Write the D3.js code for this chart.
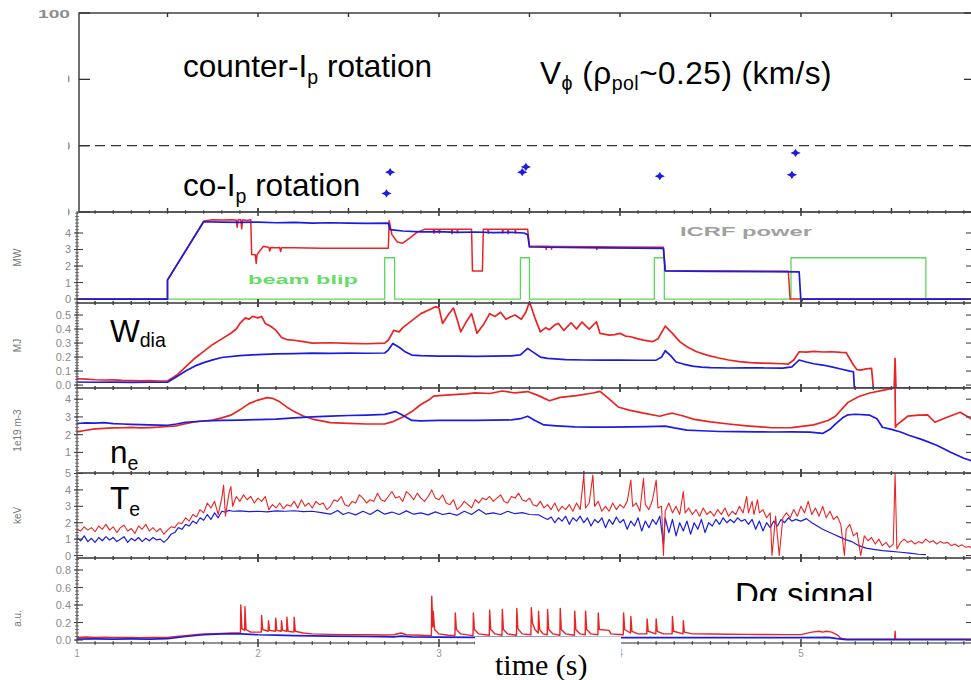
<!DOCTYPE html>
<html>
<head>
<meta charset="utf-8">
<script src="https://cdn.jsdelivr.net/npm/d3@7"></script>
<style>
body{margin:0;background:#fff}
svg{display:block}
text{font-family:"Liberation Sans",Arial,sans-serif}
</style>
</head>
<body>
<svg width="971" height="680"></svg>
<script>
// ---- data ----
var rotTime  = [2.71, 2.73, 3.46, 3.48, 4.22, 4.95, 4.97];
var rotSpeed = [-36, -20, -20, -16, -23, -22, -5.5];
var rotTicks = [100, 50, 0, -50];

var powerTicks = [0, 1, 2, 3, 4];
var powerRed = [[1,0],[1.5,0],[1.5,1.15],[1.7,4.72],[1.75,4.8],[1.8,4.78],[1.85,4.8],[1.88,4.78],[1.885,4.35],[1.89,4.8],[1.905,4.8],[1.91,4.25],[1.915,4.8],[1.94,4.75],[1.96,4.8],[1.965,2.7],[1.985,2.68],[1.99,2.15],[1.995,2.7],[2.03,3.2],[2.06,3.12],[2.065,2.9],[2.07,3.12],[2.1,3.1],[2.12,3.12],[2.125,2.88],[2.13,3.1],[2.2,3.1],[2.35,3.08],[2.5,3.08],[2.6,3.07],[2.72,3.07],[2.725,4.75],[2.74,3.9],[2.77,3.45],[2.8,3.38],[2.84,3.7],[2.88,4.05],[2.92,4.22],[2.97,4.22],[2.972,3.98],[2.975,4.22],[3.0,4.22],[3.002,4.0],[3.005,4.22],[3.07,4.22],[3.072,3.95],[3.075,4.22],[3.1,4.22],[3.102,4.02],[3.105,4.22],[3.18,4.22],[3.185,1.7],[3.24,1.7],[3.245,4.22],[3.27,4.22],[3.272,3.98],[3.275,4.22],[3.35,4.22],[3.352,4.0],[3.355,4.22],[3.38,4.22],[3.382,3.96],[3.385,4.22],[3.42,4.22],[3.422,4.0],[3.425,4.22],[3.49,4.22],[3.5,3.2],[3.59,3.2],[3.592,3.0],[3.595,3.2],[3.62,3.18],[3.622,3.02],[3.625,3.18],[3.87,3.16],[3.872,3.0],[3.875,3.16],[4.0,3.15],[4.24,3.13],[4.25,1.72],[4.6,1.7],[4.93,1.68],[4.94,0],[5.945,0]];
var powerBlue = [[1,0],[1.5,0],[1.5,1.15],[1.7,4.68],[1.8,4.66],[1.9,4.64],[2.0,4.66],[2.1,4.62],[2.2,4.64],[2.3,4.6],[2.4,4.62],[2.5,4.6],[2.6,4.58],[2.72,4.6],[2.73,4.2],[2.8,4.12],[2.9,4.07],[3.0,4.08],[3.1,4.04],[3.2,4.06],[3.3,4.02],[3.4,4.04],[3.47,4.0],[3.49,3.9],[3.5,3.15],[3.7,3.12],[3.9,3.1],[4.1,3.08],[4.24,3.07],[4.25,1.7],[4.5,1.68],[4.8,1.66],[4.99,1.64],[5.0,-0.2],[5.01,0],[5.945,0]];
var beamBlip = [[1,0],[2.70,0],[2.70,2.5],[2.755,2.5],[2.755,0],[3.45,0],[3.45,2.5],[3.50,2.5],[3.50,0],[4.19,0],[4.19,2.5],[4.245,2.5],[4.245,0],[4.945,0],[4.945,2.5],[5.69,2.5],[5.69,0],[5.945,0]];

var wdiaTicks = [0.0, 0.1, 0.2, 0.3, 0.4, 0.5];
var wdiaRed = [[1.0,0.045],[1.05,0.042],[1.1,0.038],[1.15,0.036],[1.2,0.037],[1.25,0.033],[1.3,0.032],[1.35,0.03],[1.4,0.031],[1.45,0.029],[1.5,0.03],[1.55,0.07],[1.6,0.13],[1.65,0.19],[1.7,0.24],[1.75,0.29],[1.8,0.33],[1.85,0.37],[1.88,0.4],[1.9,0.44],[1.93,0.48],[1.95,0.47],[1.97,0.49],[2.0,0.48],[2.02,0.49],[2.04,0.44],[2.07,0.42],[2.1,0.39],[2.13,0.34],[2.16,0.325],[2.2,0.32],[2.25,0.31],[2.3,0.3],[2.4,0.302],[2.5,0.298],[2.6,0.295],[2.7,0.3],[2.72,0.32],[2.75,0.39],[2.78,0.38],[2.8,0.41],[2.85,0.46],[2.9,0.51],[2.95,0.54],[2.98,0.56],[3.0,0.55],[3.02,0.44],[3.05,0.5],[3.08,0.55],[3.1,0.47],[3.12,0.38],[3.15,0.45],[3.18,0.51],[3.21,0.37],[3.25,0.44],[3.28,0.51],[3.31,0.49],[3.34,0.52],[3.37,0.47],[3.4,0.49],[3.42,0.5],[3.455,0.47],[3.48,0.52],[3.5,0.595],[3.53,0.48],[3.56,0.38],[3.59,0.41],[3.61,0.395],[3.64,0.43],[3.66,0.44],[3.69,0.39],[3.73,0.445],[3.76,0.4],[3.79,0.45],[3.83,0.4],[3.87,0.452],[3.89,0.369],[3.94,0.357],[3.97,0.36],[4.0,0.369],[4.03,0.35],[4.06,0.345],[4.1,0.33],[4.13,0.321],[4.18,0.31],[4.21,0.33],[4.25,0.421],[4.29,0.369],[4.33,0.31],[4.37,0.274],[4.42,0.24],[4.48,0.214],[4.54,0.195],[4.6,0.179],[4.66,0.168],[4.72,0.16],[4.78,0.157],[4.84,0.155],[4.9,0.152],[4.93,0.15],[4.96,0.179],[4.99,0.238],[5.03,0.235],[5.07,0.24],[5.12,0.236],[5.17,0.238],[5.22,0.233],[5.25,0.231],[5.29,0.143],[5.31,0.11],[5.33,0.107],[5.36,0.115],[5.39,0.119],[5.40,-0.02],[5.515,-0.02],[5.52,0.19],[5.525,-0.02],[5.945,-0.02]];
var wdiaBlue = [[1.0,0.022],[1.1,0.02],[1.2,0.021],[1.3,0.019],[1.4,0.02],[1.5,0.02],[1.55,0.06],[1.6,0.1],[1.65,0.135],[1.7,0.16],[1.75,0.18],[1.8,0.197],[1.9,0.21],[2.0,0.218],[2.1,0.222],[2.2,0.225],[2.3,0.228],[2.4,0.226],[2.5,0.228],[2.6,0.227],[2.7,0.229],[2.72,0.25],[2.745,0.297],[2.78,0.27],[2.81,0.24],[2.85,0.214],[2.9,0.21],[3.0,0.207],[3.1,0.206],[3.2,0.205],[3.3,0.207],[3.4,0.208],[3.45,0.215],[3.49,0.262],[3.52,0.235],[3.56,0.2],[3.6,0.19],[3.7,0.182],[3.8,0.179],[3.9,0.178],[4.0,0.178],[4.1,0.177],[4.2,0.178],[4.23,0.2],[4.25,0.245],[4.28,0.21],[4.31,0.165],[4.35,0.15],[4.4,0.135],[4.45,0.128],[4.5,0.124],[4.6,0.122],[4.7,0.123],[4.8,0.122],[4.9,0.121],[4.95,0.13],[4.99,0.179],[5.03,0.165],[5.07,0.152],[5.12,0.143],[5.17,0.13],[5.22,0.115],[5.27,0.1],[5.29,0.095],[5.295,-0.02],[5.945,-0.02]];

var neTicks = [1, 2, 3, 4];
var neRed = [[1.0,2.16],[1.05,2.25],[1.1,2.33],[1.15,2.36],[1.2,2.38],[1.25,2.39],[1.3,2.41],[1.35,2.38],[1.4,2.4],[1.45,2.42],[1.5,2.46],[1.55,2.5],[1.6,2.62],[1.65,2.72],[1.7,2.77],[1.75,2.82],[1.8,2.95],[1.85,3.1],[1.9,3.4],[1.95,3.75],[2.0,3.95],[2.05,4.09],[2.08,4.05],[2.12,3.85],[2.16,3.55],[2.2,3.3],[2.25,3.05],[2.3,2.88],[2.35,2.78],[2.4,2.68],[2.5,2.64],[2.6,2.6],[2.7,2.6],[2.75,2.75],[2.8,3.0],[2.85,3.3],[2.9,3.7],[2.95,4.0],[2.97,4.17],[3.0,4.2],[3.08,4.26],[3.15,4.3],[3.2,4.35],[3.28,4.32],[3.35,4.46],[3.42,4.35],[3.49,4.43],[3.55,4.2],[3.61,3.91],[3.67,4.1],[3.76,4.2],[3.85,4.35],[3.89,4.44],[3.93,4.1],[3.99,3.56],[4.05,3.38],[4.13,3.21],[4.22,3.04],[4.26,3.15],[4.29,3.21],[4.35,3.05],[4.41,2.86],[4.5,2.72],[4.6,2.6],[4.7,2.5],[4.8,2.42],[4.84,2.39],[4.95,2.4],[5.07,2.55],[5.15,2.8],[5.19,3.04],[5.26,3.82],[5.32,4.15],[5.38,4.35],[5.45,4.5],[5.51,4.62],[5.52,4.63],[5.522,2.42],[5.53,2.55],[5.59,3.04],[5.65,3.1],[5.7,3.12],[5.74,2.7],[5.8,2.95],[5.88,3.26],[5.945,2.86]];
var neBlue = [[1.0,2.63],[1.05,2.66],[1.1,2.65],[1.15,2.68],[1.2,2.62],[1.25,2.6],[1.3,2.58],[1.35,2.57],[1.4,2.55],[1.45,2.54],[1.5,2.53],[1.55,2.6],[1.6,2.7],[1.7,2.77],[1.8,2.8],[1.9,2.82],[2.0,2.85],[2.1,2.88],[2.2,2.95],[2.3,3.0],[2.4,3.04],[2.5,3.08],[2.6,3.1],[2.7,3.14],[2.76,3.3],[2.8,3.1],[2.85,2.8],[2.9,2.78],[3.0,2.8],[3.1,2.81],[3.2,2.8],[3.3,2.82],[3.4,2.83],[3.45,2.9],[3.49,3.04],[3.53,2.8],[3.58,2.55],[3.65,2.5],[3.75,2.44],[3.85,2.42],[3.95,2.43],[4.05,2.44],[4.15,2.45],[4.25,2.48],[4.3,2.38],[4.37,2.26],[4.45,2.22],[4.55,2.18],[4.65,2.17],[4.75,2.16],[4.85,2.15],[4.95,2.16],[5.05,2.14],[5.12,2.07],[5.16,2.3],[5.19,2.6],[5.23,2.95],[5.26,3.12],[5.3,3.15],[5.38,3.1],[5.42,2.9],[5.45,2.42],[5.5,2.3],[5.55,2.15],[5.6,1.95],[5.67,1.72],[5.75,1.4],[5.83,1.0],[5.9,0.67],[5.945,0.52]];

var teTicks = [0, 1, 2, 3, 4, 5];
var teRed = [[1.00,1.6],[1.02,1.5],[1.04,1.75],[1.06,1.55],[1.08,1.7],[1.10,1.45],[1.12,1.8],[1.14,1.6],[1.16,1.9],[1.18,1.55],[1.20,1.75],[1.22,1.4],[1.24,1.7],[1.26,1.85],[1.28,1.5],[1.30,1.65],[1.32,1.35],[1.34,1.8],[1.36,1.6],[1.38,1.9],[1.40,1.5],[1.42,1.7],[1.44,1.45],[1.46,1.65],[1.48,1.3],[1.50,1.55],[1.52,1.75],[1.54,1.7],[1.56,2.0],[1.58,1.95],[1.60,2.3],[1.62,2.1],[1.64,2.5],[1.66,2.35],[1.68,2.8],[1.70,2.6],[1.72,3.2],[1.74,2.9],[1.76,3.3],[1.78,2.5],[1.80,3.5],[1.81,4.3],[1.82,2.4],[1.84,3.8],[1.85,4.2],[1.86,3.0],[1.88,3.6],[1.90,3.3],[1.92,3.7],[1.94,3.4],[1.96,3.6],[1.98,3.2],[2.00,3.5],[2.02,3.3],[2.04,3.6],[2.06,2.8],[2.08,3.1],[2.10,2.9],[2.12,3.2],[2.14,2.85],[2.16,3.1],[2.18,3.0],[2.20,3.3],[2.22,2.9],[2.24,3.4],[2.26,3.0],[2.28,3.2],[2.30,2.9],[2.32,3.3],[2.34,3.1],[2.36,3.2],[2.38,2.8],[2.40,3.0],[2.42,3.4],[2.44,3.3],[2.46,3.6],[2.48,3.1],[2.50,3.0],[2.52,3.3],[2.54,3.2],[2.56,3.7],[2.58,3.5],[2.60,3.2],[2.62,3.4],[2.64,3.3],[2.66,3.8],[2.68,3.4],[2.70,3.3],[2.72,3.6],[2.74,3.9],[2.76,3.5],[2.78,3.6],[2.80,3.3],[2.82,3.9],[2.84,3.7],[2.86,3.4],[2.88,3.8],[2.90,3.5],[2.92,3.3],[2.94,3.6],[2.96,4.0],[2.98,3.5],[3.00,3.4],[3.02,3.7],[3.04,3.2],[3.06,3.1],[3.08,3.4],[3.10,2.8],[3.12,3.0],[3.14,3.3],[3.16,3.1],[3.18,2.9],[3.20,3.4],[3.22,3.2],[3.24,3.5],[3.26,3.4],[3.28,3.6],[3.30,3.3],[3.32,3.5],[3.34,3.7],[3.36,3.3],[3.38,3.2],[3.40,3.6],[3.42,3.5],[3.44,3.8],[3.46,3.4],[3.48,3.3],[3.50,3.5],[3.52,3.1],[3.54,3.0],[3.56,3.3],[3.58,2.9],[3.60,3.1],[3.62,2.8],[3.64,3.2],[3.66,2.7],[3.68,3.0],[3.70,2.8],[3.72,3.1],[3.74,2.7],[3.76,3.2],[3.78,2.8],[3.80,4.9],[3.81,2.9],[3.83,3.2],[3.85,4.9],[3.86,3.0],[3.88,3.3],[3.90,2.7],[3.92,3.0],[3.94,2.7],[3.96,3.2],[3.98,2.8],[4.00,3.1],[4.02,2.9],[4.04,3.3],[4.06,4.6],[4.07,3.0],[4.09,3.2],[4.11,2.7],[4.13,4.7],[4.14,3.1],[4.16,2.8],[4.18,3.4],[4.20,4.6],[4.21,2.9],[4.23,3.0],[4.24,0.0],[4.25,2.7],[4.27,3.2],[4.29,2.6],[4.31,3.0],[4.33,2.5],[4.35,3.9],[4.36,2.6],[4.38,2.9],[4.40,2.5],[4.42,2.8],[4.44,2.4],[4.46,2.9],[4.48,2.5],[4.50,2.7],[4.52,2.4],[4.54,2.8],[4.56,2.5],[4.58,2.9],[4.60,2.4],[4.62,2.7],[4.64,2.5],[4.66,3.0],[4.68,2.6],[4.70,3.6],[4.71,2.6],[4.73,3.3],[4.74,2.5],[4.76,3.4],[4.77,2.6],[4.79,2.8],[4.81,2.3],[4.83,2.6],[4.84,0.0],[4.86,2.4],[4.88,0.0],[4.90,2.3],[4.92,2.6],[4.94,2.3],[4.96,2.8],[4.98,2.4],[5.00,3.0],[5.02,2.6],[5.04,3.3],[5.06,2.5],[5.08,2.9],[5.10,2.4],[5.12,3.0],[5.14,2.3],[5.16,2.7],[5.18,2.2],[5.20,2.4],[5.22,1.9],[5.24,0.0],[5.25,1.6],[5.27,1.9],[5.29,1.2],[5.31,1.4],[5.33,0.0],[5.35,1.2],[5.37,0.9],[5.39,1.1],[5.41,0.7],[5.43,1.0],[5.45,0.6],[5.47,0.8],[5.49,0.5],[5.51,0.7],[5.52,5.0],[5.53,0.4],[5.55,0.8],[5.57,1.0],[5.59,0.8],[5.61,0.9],[5.63,0.7],[5.65,0.85],[5.67,0.75],[5.69,1.0],[5.71,0.8],[5.73,0.9],[5.75,0.7],[5.77,0.85],[5.79,0.75],[5.81,0.8],[5.83,0.6],[5.85,0.7],[5.87,0.55],[5.89,0.65],[5.91,0.5],[5.93,0.55],[5.945,0.45]];
var teBlue = [[1.00,1.1],[1.02,0.9],[1.04,1.2],[1.06,0.85],[1.08,1.05],[1.10,0.8],[1.12,1.1],[1.14,0.9],[1.16,1.15],[1.18,0.95],[1.20,1.1],[1.22,0.85],[1.24,1.0],[1.26,1.15],[1.28,0.8],[1.30,1.05],[1.32,0.9],[1.34,1.1],[1.36,0.85],[1.38,1.05],[1.40,0.9],[1.42,1.1],[1.44,0.95],[1.46,1.0],[1.48,0.8],[1.50,1.0],[1.52,1.3],[1.54,1.4],[1.56,1.7],[1.58,1.6],[1.60,1.9],[1.62,1.8],[1.64,2.1],[1.66,1.95],[1.68,2.3],[1.70,2.15],[1.72,2.5],[1.74,2.2],[1.76,2.6],[1.78,2.3],[1.80,2.7],[1.82,2.65],[1.84,2.75],[1.86,2.7],[1.90,2.72],[1.95,2.68],[2.0,2.7],[2.05,2.66],[2.1,2.72],[2.15,2.7],[2.2,2.73],[2.25,2.68],[2.3,2.7],[2.35,2.62],[2.40,2.52],[2.44,2.75],[2.47,2.5],[2.5,2.62],[2.54,2.48],[2.58,2.7],[2.62,2.5],[2.66,2.78],[2.7,2.52],[2.74,2.65],[2.78,2.5],[2.82,2.72],[2.86,2.52],[2.9,2.6],[2.94,2.48],[2.98,2.66],[3.02,2.5],[3.06,2.58],[3.1,2.45],[3.14,2.7],[3.18,2.5],[3.22,2.8],[3.26,2.52],[3.3,2.6],[3.34,2.5],[3.38,2.7],[3.42,2.55],[3.46,2.62],[3.5,2.5],[3.55,2.48],[3.58,2.3],[3.6,2.2],[3.62,2.35],[3.64,2.0],[3.66,2.3],[3.68,2.1],[3.70,2.4],[3.72,1.9],[3.74,2.3],[3.76,2.1],[3.78,2.4],[3.80,2.0],[3.82,2.3],[3.84,1.8],[3.86,2.2],[3.88,2.0],[3.90,2.3],[3.92,1.7],[3.94,2.2],[3.96,1.9],[3.98,2.35],[4.00,2.0],[4.02,2.2],[4.04,1.6],[4.06,2.1],[4.08,1.8],[4.10,2.3],[4.12,1.5],[4.14,2.1],[4.16,1.7],[4.18,2.2],[4.20,1.9],[4.22,2.4],[4.24,0.7],[4.25,2.3],[4.27,1.4],[4.29,2.2],[4.31,1.2],[4.33,2.0],[4.35,1.5],[4.37,2.1],[4.39,1.3],[4.41,2.0],[4.43,1.6],[4.45,2.2],[4.47,1.4],[4.49,2.0],[4.51,1.8],[4.53,2.2],[4.55,1.9],[4.57,2.3],[4.59,2.0],[4.61,2.2],[4.63,2.0],[4.65,2.3],[4.67,2.1],[4.69,2.2],[4.71,1.9],[4.73,2.2],[4.75,1.6],[4.77,2.1],[4.79,1.5],[4.81,2.0],[4.83,1.7],[4.85,2.1],[4.87,1.8],[4.89,2.2],[4.91,2.0],[4.93,2.3],[4.95,2.1],[4.97,2.2],[5.00,2.1],[5.03,2.25],[5.06,2.0],[5.09,1.8],[5.12,1.6],[5.15,1.45],[5.18,1.3],[5.21,1.15],[5.24,1.0],[5.28,0.85],[5.32,0.6],[5.36,0.45],[5.40,0.38],[5.45,0.3],[5.50,0.25],[5.55,0.2],[5.60,0.15],[5.65,0.08],[5.69,0.05]];

var daTicks = [0.0, 0.2, 0.4, 0.6, 0.8];
var daRed = [[1.0,0.03],[1.05,0.035],[1.1,0.03],[1.15,0.032],[1.2,0.03],[1.25,0.028],[1.3,0.03],[1.35,0.027],[1.4,0.03],[1.45,0.028],[1.5,0.03],[1.55,0.04],[1.6,0.05],[1.65,0.06],[1.7,0.068],[1.75,0.072],[1.8,0.075],[1.85,0.08],[1.903,0.08],[1.905,0.4],[1.911,0.13],[1.926,0.11],[1.928,0.38],[1.934,0.12],[1.96,0.09],[2.018,0.09],[2.02,0.28],[2.026,0.12],[2.056,0.1],[2.058,0.22],[2.064,0.11],[2.096,0.1],[2.098,0.25],[2.104,0.11],[2.128,0.1],[2.13,0.22],[2.136,0.11],[2.158,0.1],[2.16,0.26],[2.166,0.1],[2.198,0.09],[2.2,0.26],[2.206,0.1],[2.25,0.08],[2.3,0.07],[2.4,0.065],[2.5,0.06],[2.6,0.06],[2.7,0.058],[2.75,0.06],[2.79,0.08],[2.82,0.06],[2.9,0.055],[2.958,0.05],[2.96,0.5],[2.966,0.15],[2.968,0.33],[2.976,0.12],[3.0,0.07],[3.05,0.055],[3.088,0.05],[3.09,0.31],[3.096,0.12],[3.12,0.07],[3.188,0.05],[3.19,0.31],[3.196,0.12],[3.22,0.07],[3.278,0.055],[3.28,0.34],[3.286,0.12],[3.31,0.07],[3.348,0.055],[3.35,0.35],[3.356,0.12],[3.38,0.07],[3.428,0.055],[3.43,0.36],[3.436,0.13],[3.46,0.07],[3.508,0.06],[3.51,0.37],[3.516,0.2],[3.53,0.12],[3.548,0.08],[3.55,0.33],[3.556,0.12],[3.575,0.07],[3.598,0.06],[3.6,0.35],[3.606,0.12],[3.63,0.07],[3.668,0.055],[3.67,0.36],[3.676,0.12],[3.7,0.07],[3.748,0.055],[3.75,0.33],[3.756,0.12],[3.78,0.07],[3.808,0.06],[3.81,0.33],[3.816,0.12],[3.84,0.07],[3.878,0.06],[3.88,0.31],[3.886,0.12],[3.94,0.11],[3.95,0.07],[4.018,0.06],[4.02,0.31],[4.026,0.12],[4.058,0.08],[4.06,0.27],[4.066,0.1],[4.1,0.07],[4.148,0.07],[4.15,0.24],[4.156,0.1],[4.198,0.07],[4.2,0.24],[4.206,0.1],[4.24,0.07],[4.288,0.07],[4.29,0.27],[4.296,0.1],[4.348,0.07],[4.35,0.22],[4.356,0.09],[4.4,0.07],[4.5,0.068],[4.6,0.066],[4.7,0.065],[4.8,0.063],[4.9,0.062],[5.0,0.062],[5.06,0.09],[5.1,0.1],[5.12,0.09],[5.14,0.1],[5.17,0.09],[5.2,0.06],[5.22,0.02],[5.25,0.01],[5.518,0.01],[5.52,0.1],[5.523,0.01],[5.945,0.01]];
var daBlue = [[1.0,0.01],[1.1,0.012],[1.2,0.01],[1.3,0.012],[1.4,0.01],[1.5,0.015],[1.6,0.04],[1.7,0.06],[1.8,0.07],[1.9,0.07],[2.0,0.06],[2.1,0.055],[2.2,0.05],[2.4,0.045],[2.6,0.04],[2.75,0.035],[2.79,0.045],[2.85,0.035],[3.0,0.032],[3.2,0.03],[3.5,0.03],[4.0,0.028],[4.5,0.027],[5.0,0.028],[5.15,0.03],[5.2,0.015],[5.25,0.005],[5.945,0.005]];

var timeTicks = [1, 2, 3, 4, 5];

// ---- drawing ----
var svg = d3.select("svg");
var RED = "#ea2424", BLUE = "#1c1ce0", GREEN = "#5ad85a";
var left = 77, right = 972;

var x = d3.scaleLinear().domain([1, 5.945]).range([left, right]);

var line = function(y){
  return d3.line().x(function(d){return x(d[0]);}).y(function(d){return y(d[1]);});
};

// top panel: rotation
var rotY = d3.scaleLinear().domain([-50, 100]).range([212, 13]);
var rotG = svg.append("g");
rotG.append("rect").attr("x", 79).attr("y", 13).attr("width", right - 79).attr("height", 199)
  .attr("fill", "none").attr("stroke", "#333").attr("stroke-width", 1.4);
rotG.append("line").attr("x1", 79).attr("x2", right).attr("y1", rotY(0)).attr("y2", rotY(0))
  .attr("stroke", "#333").attr("stroke-width", 1.3).attr("stroke-dasharray", "10,6");
d3.range(1.5, 5.95, 0.5).forEach(function(t){
  rotG.append("line").attr("x1", x(t)).attr("x2", x(t)).attr("y1", 13).attr("y2", 17).attr("stroke", "#333").attr("stroke-width", 1.4);
  rotG.append("line").attr("x1", x(t)).attr("x2", x(t)).attr("y1", 212).attr("y2", 208).attr("stroke", "#333").attr("stroke-width", 1.4);
});
rotTicks.forEach(function(v){
  rotG.append("line").attr("x1", 79).attr("x2", 90).attr("y1", rotY(v)).attr("y2", rotY(v)).attr("stroke", "#333").attr("stroke-width", 1.3);
  rotG.append("line").attr("x1", right - 8).attr("x2", right).attr("y1", rotY(v)).attr("y2", rotY(v)).attr("stroke", "#333").attr("stroke-width", 1.3);
  var lab = rotG.append("text").attr("x", 70).attr("y", v === 100 ? 18 : rotY(v) + 4).attr("text-anchor", "end")
    .attr("font-size", 11).attr("font-weight", "bold").attr("fill", "#8c8c8c").text(v);
  if (v === 100) lab.attr("textLength", 32).attr("lengthAdjust", "spacingAndGlyphs");
});
// the old figure had its labels pasted over on the left
rotG.append("rect").attr("x", 0).attr("y", 26).attr("width", 68).attr("height", 192).attr("fill", "#fff");

var star = {draw: function(ctx, size){
  var r = Math.sqrt(size), w = r * 0.32;
  ctx.moveTo(0, -r * 0.8); ctx.lineTo(w, -w); ctx.lineTo(r, 0); ctx.lineTo(w, w);
  ctx.lineTo(0, r * 0.8); ctx.lineTo(-w, w); ctx.lineTo(-r, 0); ctx.lineTo(-w, -w); ctx.closePath();
}};
rotG.selectAll(".pt").data(rotTime).enter().append("path")
  .attr("transform", function(d, i){ return "translate(" + x(d) + "," + rotY(rotSpeed[i]) + ")"; })
  .attr("d", d3.symbol().type(star).size(26)).attr("fill", BLUE);

// lower panels
var panels = [
  {name: "power", top: 212, bottom: 303, domain: [-0.24, 5.27], ticks: powerTicks, step: 0.2, fmt: d3.format("d"), unit: "MW",
   series: [[beamBlip, GREEN, 1.3], [powerRed, RED, 1.5], [powerBlue, BLUE, 1.7]]},
  {name: "wdia", top: 303, bottom: 388, domain: [-0.021, 0.586], ticks: wdiaTicks, step: 0.02, fmt: d3.format(".1f"), unit: "MJ",
   series: [[wdiaRed, RED, 1.7], [wdiaBlue, BLUE, 1.7]]},
  {name: "ne", top: 388, bottom: 473, domain: [-0.16, 4.63], ticks: neTicks, step: 0.2, fmt: d3.format("d"), unit: "1e19 m-3",
   series: [[neRed, RED, 1.7], [neBlue, BLUE, 1.7]]},
  {name: "te", top: 473, bottom: 558, domain: [-0.15, 5.03], ticks: teTicks, step: 0.2, fmt: d3.format("d"), unit: "keV",
   series: [[teBlue, BLUE, 1.2], [teRed, RED, 1.1]]},
  {name: "da", top: 558, bottom: 643, domain: [-0.034, 0.937], ticks: daTicks, step: 0.04, fmt: d3.format(".1f"), unit: "a.u.",
   series: [[daRed, RED, 1.4], [daBlue, BLUE, 1.7]]}
];

var defs = svg.append("defs");

panels.forEach(function(p){
  var y = d3.scaleLinear().domain(p.domain).range([p.bottom, p.top]);
  var g = svg.append("g");
  defs.append("clipPath").attr("id", "clip-" + p.name).append("rect")
    .attr("x", left).attr("y", p.top).attr("width", right - left).attr("height", p.bottom - p.top);

  var lines = g.append("g").attr("clip-path", "url(#clip-" + p.name + ")");
  p.series.forEach(function(s){
    lines.append("path").datum(s[0]).attr("d", line(y)).attr("fill", "none")
      .attr("stroke", s[1]).attr("stroke-width", s[2]).attr("stroke-linejoin", "round");
  });

  g.append("rect").attr("x", left).attr("y", p.top).attr("width", right - left).attr("height", p.bottom - p.top)
    .attr("fill", "none").attr("stroke", "#4a4a4a").attr("stroke-width", 1.2);

  // time ticks on both edges
  d3.range(1.1, 5.95, 0.1).forEach(function(t){
    var major = Math.abs(t - Math.round(t)) < 0.01;
    var h = major ? 4 : 1.8;
    [p.top, p.bottom].forEach(function(yy){
      g.append("line").attr("x1", x(t)).attr("x2", x(t)).attr("y1", yy - h).attr("y2", yy + h)
        .attr("stroke", "#444").attr("stroke-width", major ? 1.6 : 1.3);
    });
  });

  // value ticks, dense minor ones like the original ruler
  var lo = Math.ceil(p.domain[0] / p.step), hi = Math.floor(p.domain[1] / p.step);
  d3.range(lo, hi + 1).forEach(function(k){
    var v = k * p.step;
    g.append("line").attr("x1", left - 2).attr("x2", left + 2).attr("y1", y(v)).attr("y2", y(v)).attr("stroke", "#555").attr("stroke-width", 0.8);
  });
  p.ticks.forEach(function(v){
    g.append("line").attr("x1", left - 3).attr("x2", left + 6).attr("y1", y(v)).attr("y2", y(v)).attr("stroke", "#444").attr("stroke-width", 1.1);
    g.append("line").attr("x1", right - 6).attr("x2", right).attr("y1", y(v)).attr("y2", y(v)).attr("stroke", "#444").attr("stroke-width", 1.1);
    g.append("text").attr("x", left - 6).attr("y", y(v) + 4).attr("text-anchor", "end")
      .attr("font-size", 11).attr("fill", "#8a8a8a").text(p.fmt(v));
  });

  g.append("text").attr("transform", "translate(21," + ((p.top + p.bottom) / 2 + (p.name === "da" ? 18 : 0)) + ") rotate(-90)")
    .attr("text-anchor", "middle").attr("font-size", 10).attr("fill", "#777").text(p.unit);
});

// time labels under the last panel
timeTicks.forEach(function(t){
  svg.append("text").attr("x", x(t)).attr("y", 657).attr("text-anchor", "middle")
    .attr("font-size", 10).attr("fill", "#999").text(t);
});

// inset labels
svg.append("text").attr("x", 680).attr("y", 236).attr("font-size", 12).attr("font-weight", "bold")
  .attr("fill", "#a0a0a0").attr("textLength", 132).attr("lengthAdjust", "spacingAndGlyphs").text("ICRF power");
svg.append("text").attr("x", 248).attr("y", 284).attr("font-size", 12).attr("font-weight", "bold")
  .attr("fill", "#66dd66").attr("textLength", 110).attr("lengthAdjust", "spacingAndGlyphs").text("beam blip");

// white boxes pasted on top of the figure
svg.append("rect").attr("x", 475).attr("y", 637).attr("width", 146).attr("height", 43).attr("fill", "#fff");
svg.append("rect").attr("x", 700).attr("y", 574).attr("width", 271).attr("height", 27).attr("fill", "#fff");

// big annotation text
var big = 31.5;
function sub(t, main, s, dy){
  t.append("tspan").text(main);
  t.append("tspan").attr("font-size", big * 0.62).attr("dy", dy).text(s);
}
var t1 = svg.append("text").attr("x", 183).attr("y", 77).attr("font-size", big);
sub(t1, "counter-I", "p", 7);
t1.append("tspan").attr("dy", -7).text(" rotation");

var t2 = svg.append("text").attr("x", 183).attr("y", 196).attr("font-size", big);
sub(t2, "co-I", "p", 7);
t2.append("tspan").attr("dy", -7).text(" rotation");

var t3 = svg.append("text").attr("x", 540).attr("y", 84).attr("font-size", big).attr("letter-spacing", 0.5);
sub(t3, "V", "\u03d5", 6);
t3.append("tspan").attr("dy", -6).text(" (\u03c1");
t3.append("tspan").attr("font-size", big * 0.62).attr("dy", 6).text("pol");
t3.append("tspan").attr("dy", -6).text("~0.25) (km/s)");

var t4 = svg.append("text").attr("x", 110).attr("y", 342).attr("font-size", big);
sub(t4, "W", "dia", 5);
var t5 = svg.append("text").attr("x", 110).attr("y", 463).attr("font-size", big);
sub(t5, "n", "e", 7);
var t6 = svg.append("text").attr("x", 110).attr("y", 509).attr("font-size", big);
sub(t6, "T", "e", 7);

defs.append("clipPath").attr("id", "clip-da-text").append("rect").attr("x", 700).attr("y", 560).attr("width", 271).attr("height", 41);
svg.append("text").attr("x", 735).attr("y", 606).attr("font-size", 33).attr("clip-path", "url(#clip-da-text)").text("D\u03b1 signal");

svg.append("text").attr("x", 495).attr("y", 675).attr("font-size", 30)
  .style("font-family", "'Liberation Serif','Times New Roman',serif").text("time (s)");
</script>
</body>
</html>
